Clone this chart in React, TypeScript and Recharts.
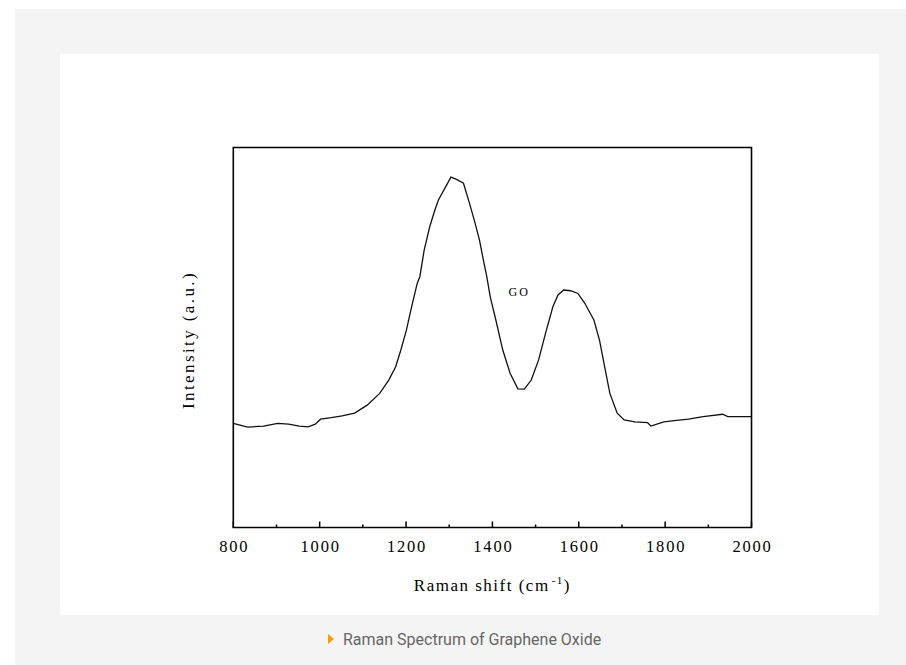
import React from 'react'
import { LineChart, Line, XAxis, YAxis, ReferenceArea, ReferenceDot, Label } from 'recharts'

// Raman shift (cm-1) and intensity (a.u.)
const SHIFT = [
  800, 833, 870, 903, 928, 953, 973, 990, 1002, 1027, 1052, 1081, 1110, 1139, 1160,
  1176, 1188, 1201, 1213, 1226, 1232, 1242, 1255, 1267, 1275, 1292, 1304, 1317, 1333,
  1346, 1358, 1370, 1379, 1387, 1395, 1408, 1424, 1441, 1459, 1474, 1490, 1507, 1523,
  1540, 1552, 1565, 1581, 1598, 1614, 1635, 1648, 1660, 1672, 1689, 1705, 1730, 1759,
  1767, 1797, 1821, 1854, 1888, 1933, 1945, 2000,
]
const INTENSITY = [
  27.4, 26.4, 26.7, 27.4, 27.2, 26.7, 26.5, 27.2, 28.5, 28.9, 29.4, 30.1, 32.2, 35.3, 38.8,
  42.3, 46.7, 52.0, 58.1, 64.3, 66.0, 73.0, 79.2, 83.6, 86.2, 89.7, 92.2, 91.6, 90.6,
  85.7, 80.9, 75.7, 70.4, 66.0, 60.7, 54.6, 46.7, 40.6, 36.5, 36.4, 38.8, 44.1, 51.1,
  58.1, 61.2, 62.5, 62.3, 61.6, 59.0, 54.6, 49.3, 42.3, 35.3, 30.1, 28.3, 27.8, 27.6,
  26.7, 27.8, 28.1, 28.5, 29.2, 29.8, 29.2, 29.2,
]
const X_TICKS = [800, 900, 1000, 1100, 1200, 1300, 1400, 1500, 1600, 1700, 1800, 1900, 2000]
const X_DOMAIN = [800, 2000]
const Y_DOMAIN = [0, 100]

const data = SHIFT.map((s, i) => ({ shift: s, v: INTENSITY[i] }))

const SERIF = '"Liberation Serif", "Times New Roman", serif'
const MARGIN = { top: 93.5, right: 127.5, bottom: 47.5, left: 173.3 }
const PLOT_H = 380

const Tick = (props: any) => {
  const { x, y, payload } = props
  const major = payload.value % 200 === 0
  return (
    <g>
      <line x1={x} x2={x} y1={y} y2={y - (major ? 6 : 3)} stroke="#000" strokeWidth={1.5} />
      {major && (
        <text x={x + 1} y={y + 24.5} textAnchor="middle" fontFamily={SERIF} fontSize={16.5}
          letterSpacing={1.8} fill="#000">
          {payload.value}
        </text>
      )}
    </g>
  )
}

const XTitle = (props: any) => {
  const { x, y, width } = props.viewBox
  return (
    <text x={x + width / 2} y={y + 63.5} textAnchor="middle" fontFamily={SERIF}
      fontSize={17} letterSpacing={1.5} fill="#000">
      Raman shift (cm
      <tspan fontSize={11} dy={-7} dx={2}>-1</tspan>
      <tspan dy={7}>)</tspan>
    </text>
  )
}

const YTitle = (props: any) => {
  const { x } = props.viewBox
  const cx = x - 45
  const cy = MARGIN.top + PLOT_H / 2 + 2.5
  return (
    <text x={cx} y={cy} transform={`rotate(-90 ${cx} ${cy})`} textAnchor="middle"
      dominantBaseline="central" fontFamily={SERIF} fontSize={17} letterSpacing={2.4} fill="#000">
      Intensity (a.u.)
    </text>
  )
}

export default function App() {
  return (
    <div style={{ position: 'relative', width: 906, height: 665, overflow: 'hidden' }}>
      <style>{'body{margin:0}'}</style>
      <div style={{ position: 'absolute', left: 15, top: 9, width: 900, height: 656, background: '#f4f4f4' }} />
      <div style={{ position: 'absolute', left: 60, top: 54, width: 819, height: 561, background: '#fff' }}>
        <LineChart width={819} height={561} data={data} margin={MARGIN}>
          <XAxis dataKey="shift" type="number" domain={X_DOMAIN} ticks={X_TICKS} interval={0}
            axisLine={false} tickLine={false} tickSize={0} tickMargin={0} height={40}
            tick={<Tick />}>
            <Label content={<XTitle />} />
            <Label content={<YTitle />} />
          </XAxis>
          <YAxis type="number" domain={Y_DOMAIN} width={0} tick={false} axisLine={false} tickLine={false} />
          <Line type="linear" dataKey="v" stroke="#111" strokeWidth={1.3} dot={false}
            isAnimationActive={false} />
          <ReferenceArea x1={800} x2={2000} y1={0} y2={100} fill="none" stroke="#000"
            strokeWidth={1.6} ifOverflow="extendDomain" />
          <ReferenceDot x={1462} y={62} r={0} fill="none" stroke="none"
            label={{ value: 'GO', position: 'center', fontFamily: SERIF, fontSize: 12,
              letterSpacing: 2, fill: '#000' }} />
        </LineChart>
      </div>
      <div style={{ position: 'absolute', left: 0, top: 630, width: 906,
        fontFamily: 'Roboto, "Noto Sans", sans-serif', fontSize: 16, color: '#666', lineHeight: '20px' }}>
        <span style={{ position: 'absolute', left: 328, top: 4, width: 0, height: 0,
          borderTop: '5.5px solid transparent', borderBottom: '5.5px solid transparent',
          borderLeft: '6px solid #f5a000' }} />
        <span style={{ position: 'absolute', left: 343, top: 0, whiteSpace: 'nowrap' }}>
          Raman Spectrum of Graphene Oxide
        </span>
      </div>
    </div>
  )
}
